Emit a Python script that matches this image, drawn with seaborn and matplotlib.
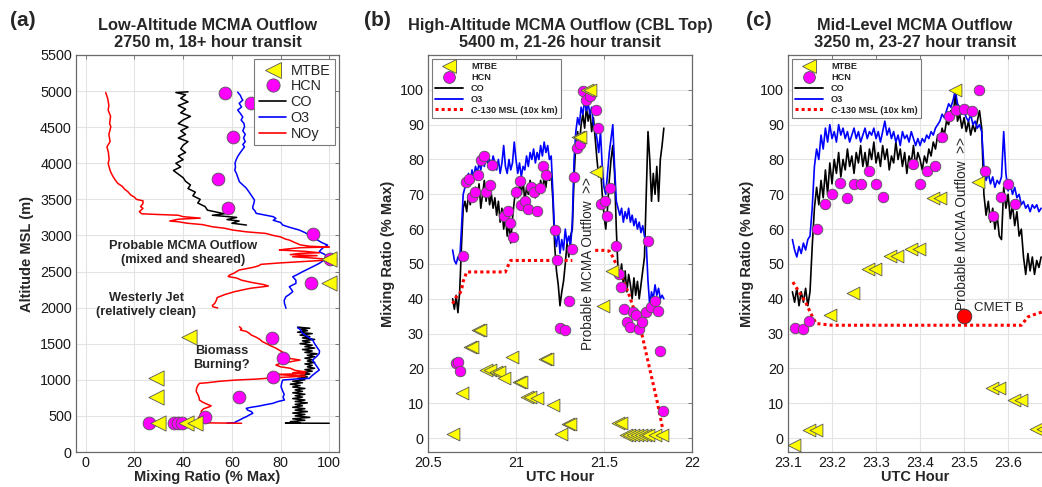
import numpy as np
import matplotlib
matplotlib.use("Agg")
import matplotlib.pyplot as plt
from matplotlib.lines import Line2D
import seaborn as sns

# ================= Panel (a): vertical profiles =================
noy_hi_alt = [4980, 4900, 4800, 4737, 4650, 4550, 4506, 4400, 4300, 4228, 4150, 4050, 3998, 3900, 3860, 3800, 3750, 3721, 3680, 3640,
              3606, 3560, 3530, 3500, 3480, 3440, 3400, 3375, 3330, 3300, 3290, 3280, 3260, 3240, 3225, 3200, 3190, 3170, 3150, 3120,
              3100, 3075, 3050, 3028, 3000, 2980, 2950, 2936, 2900, 2870, 2850, 2840, 2830, 2810, 2798, 2780, 2760, 2752, 2735, 2720,
              2705, 2690, 2675, 2660, 2640, 2620, 2600, 2580, 2560, 2540, 2521, 2480, 2450, 2430, 2410, 2380, 2350, 2320, 2300, 2290,
              2270, 2250, 2220, 2180, 2140, 2100, 2060, 2030, 2013, 1995]
noy_hi_val = [8.2, 9, 9.5, 9.2, 10.2, 9.8, 10.3, 9.5, 10, 8.7, 9.3, 9.6, 9.2, 10, 10.5, 11.5, 12.5, 13.2, 15, 16,
              17.3, 18.5, 20, 20.8, 23.5, 23.5, 22.5, 23.5, 22, 23, 30, 38, 40, 47, 38, 34.5, 38, 41.5, 48, 52,
              57, 60.4, 66, 74, 77, 80, 82, 83.6, 86, 88, 92, 100, 88, 82, 79.5, 90, 96, 88, 84, 95,
              85, 92, 98, 100, 90, 80, 72, 71, 69, 66, 63, 61, 59, 58.5, 62, 64, 68, 73, 75, 73,
              68, 65, 61, 57, 54, 53.6, 53, 52, 52.2, 54.2]

noy_lo_alt = [1736, 1710, 1690, 1670, 1644, 1620, 1590, 1560, 1530, 1505, 1470, 1440, 1400, 1370, 1330, 1297, 1274, 1250, 1230, 1205,
              1180, 1160, 1130, 1110, 1098, 1085, 1075, 1066, 1050, 1030, 1010, 997, 980, 960, 951, 920, 880, 835, 800, 760,
              720, 690, 660, 640, 627, 600, 570, 536, 500, 470, 443, 420, 405, 398]
noy_lo_val = [63.1, 64, 63.5, 66, 67.2, 68, 70, 71.5, 72.5, 74, 76, 78, 80, 81.5, 83, 83.6, 88, 84, 80, 78.1,
              80, 84, 86, 90.4, 85, 90, 78, 82, 90, 78, 70, 61.7, 55, 50, 46.7, 46, 45.5, 45.4, 46, 46.5,
              46.7, 48, 50, 51.5, 50.8, 48.5, 47.5, 47.4, 47, 46.2, 46.7, 46.5, 47, 64]

o3_hi_alt = [4985, 4940, 4900, 4875, 4830, 4780, 4737, 4690, 4640, 4600, 4550, 4506, 4450, 4400, 4350, 4300, 4260, 4228, 4150, 4100,
             4044, 4000, 3950, 3906, 3850, 3800, 3744, 3700, 3660, 3629, 3580, 3530, 3490, 3440, 3400, 3375, 3340, 3306, 3280, 3260,
             3236, 3210, 3180, 3144, 3110, 3075, 3040, 3010, 2982, 2940, 2900, 2867, 2830, 2800, 2774, 2740, 2710, 2682, 2650, 2613,
             2567, 2530, 2497, 2460, 2428, 2380, 2336, 2290, 2250, 2221, 2180, 2151, 2100, 2059, 2020, 1990]
o3_hi_val = [62.4, 63.5, 64, 64.5, 63, 64, 62.4, 63.5, 64.5, 63.8, 65, 65.2, 64.5, 65.5, 64.8, 65.5, 64.5, 65.2, 63.5, 62.5,
             61.7, 61.3, 61.5, 61.2, 62, 62.5, 63.1, 64.5, 65.8, 66.5, 67.5, 68.5, 69.3, 69, 68.6, 68.6, 69.5, 70, 74, 77,
             78.1, 77, 80, 80.9, 84, 87.7, 90, 91.5, 93.2, 95, 97, 99.3, 97.5, 96.5, 95.9, 98, 99, 100, 97.5, 95.9,
             93.2, 91, 89, 87, 85, 86.3, 86.3, 83.6, 84.5, 85, 83.5, 82.2, 81.5, 81.6, 82, 82.2]

o3_lo_alt = [1720, 1700, 1670, 1644, 1600, 1551, 1500, 1450, 1400, 1367, 1330, 1300, 1274, 1230, 1180, 1136, 1100, 1060, 1020, 1010,
             997, 960, 904, 850, 800, 760, 720, 700, 674, 650, 637, 620, 605, 580, 560, 536, 510, 490, 467, 440,
             420, 405, 400]
o3_lo_val = [87, 88, 88.5, 89, 91, 93.2, 94, 95, 96, 95.9, 95, 94, 93.2, 94, 95, 95.9, 94.5, 93, 91.8, 86,
             80.9, 80.5, 80.2, 80.8, 81.5, 81, 81.6, 79, 76.8, 73, 71.3, 68, 65.9, 66.5, 68, 68.6, 67, 66, 64.5, 63,
             61.7, 61, 58]

co_hi_alt = [4990, 4980, 4950, 4900, 4850, 4800, 4750, 4700, 4650, 4600, 4550, 4500, 4450, 4400, 4350, 4300, 4250, 4200, 4150, 4100,
             4050, 4000, 3950, 3900, 3850, 3800, 3750, 3700, 3650, 3600, 3550, 3500, 3450, 3400, 3350, 3300, 3280, 3250, 3220, 3200,
             3170, 3144]
co_hi_val = [42, 37, 41, 39, 42, 38, 41, 39, 43, 40, 38, 42, 39, 41, 38, 42, 40, 39, 41, 38,
             40, 37, 39, 36, 38, 40, 41, 43, 42, 45, 44, 47, 46, 49, 50, 57, 52, 62, 58, 63,
             60, 66]

co_lo_alt = [1730, 1715, 1700, 1680, 1660, 1640, 1620, 1600, 1580, 1560, 1540, 1520, 1500, 1480, 1460, 1440, 1420, 1400, 1380, 1360,
             1340, 1320, 1300, 1280, 1260, 1240, 1220, 1200, 1180, 1160, 1140, 1120, 1100, 1080, 1060, 1040, 1020, 1000, 980, 960,
             940, 920, 900, 880, 860, 840, 820, 800, 780, 760, 740, 720, 700, 680, 660, 640, 620, 600, 580, 560,
             540, 520, 500, 480, 460, 440, 420, 405, 400, 398]
co_lo_val = [87, 92, 88, 91, 87, 93, 88, 92, 89, 94, 89, 92, 88, 93, 90, 94, 89, 93, 90, 95,
             91, 94, 90, 93, 91, 94, 90, 93, 91, 94, 90, 93, 89, 92, 88, 91, 87, 90, 85, 89,
             84, 88, 85, 90, 86, 89, 85, 90, 86, 89, 85, 90, 86, 91, 86, 89, 85, 90, 86, 91,
             85, 90, 86, 92, 85, 90, 84, 88, 82, 100]

hcn_a_val = [57.2, 67.9, 60.4, 54.5, 58.3, 93.2, 100.4, 92.5, 76.5, 81.1, 76.8, 62.8, 49, 26, 36.3, 37.8, 39.5]
hcn_a_alt = [4976, 4838, 4367, 3781, 3375, 3019, 2668, 2345, 1583, 1306, 1043, 766, 489, 400, 400, 400, 400]
mtbe_a_val = [100, 99.7, 42.3, 28.7, 28.7, 29.6, 41, 45]
mtbe_a_alt = [2668, 2345, 1588, 1029, 766, 400, 400, 400]

# ================= Panel (b): time series =================
co_b = [40, 37, 41, 36, 42, 55, 66, 68, 65, 70,
        67, 71, 68, 72, 69, 73, 66, 70, 74, 68,
        72, 67, 70, 66, 69, 64, 68, 62, 66, 60,
        64, 58, 62, 56, 63, 68, 72, 69, 73, 70,
        74, 68, 72, 70, 74, 71, 73, 69, 72, 70,
        74, 71, 75, 72, 77, 74, 76, 68, 55, 48,
        44, 38, 42, 45, 50, 56, 52, 58, 60, 75,
        85, 88, 84, 90, 93, 89, 95, 91, 94, 88,
        92, 86, 80, 75, 78, 70, 64, 60, 66, 74,
        80, 84, 76, 60, 48, 46, 50, 44, 48, 42,
        47, 44, 40, 46, 41, 45, 40, 44, 48, 52,
        70, 88, 80, 68, 76, 70, 78, 68, 80, 84,
        89]
o3_b = [54, 51, 50, 52, 51, 60, 70, 72, 74, 76,
        73, 77, 75, 78, 76, 79, 77, 80, 78, 81,
        79, 80, 78, 81, 79, 77, 80, 76, 79, 84,
        78, 76, 80, 77, 79, 85, 80, 76, 79, 75,
        78, 77, 81, 78, 82, 80, 83, 79, 82, 80,
        84, 81, 85, 82, 84, 80, 81, 70, 58, 55,
        60, 53, 57, 54, 60, 56, 58, 55, 62, 80,
        88, 92, 90, 95, 93, 97, 94, 96, 93, 95,
        90, 89, 86, 82, 88, 78, 72, 70, 76, 82,
        86, 90, 78, 68, 66, 64, 66, 62, 65, 63,
        66, 62, 64, 61, 63, 60, 62, 59, 61, 58,
        56, 45, 38, 42, 40, 44, 41, 43, 40, 41,
        40]
t_b = np.round(20.64 + 0.01 * np.arange(len(co_b)), 3)

c130_b1_t = [20.64, 20.66, 20.68, 20.69, 20.70, 20.72, 20.80, 20.90, 20.94, 20.955, 20.97, 21.05, 21.15, 21.25, 21.32]
c130_b1_v = [38.6, 40.5, 41.5, 42.4, 45, 47.7, 47.7, 47.7, 47.7, 49.5, 51, 51, 51, 51, 51]
c130_b2_t = [21.45, 21.50, 21.53, 21.55, 21.60, 21.64, 21.71, 21.75, 21.80, 21.835]
c130_b2_v = [53.9, 53.9, 53.7, 52, 46.5, 41.5, 31, 22, 11, 2.3]

hcn_b_t = [20.657, 20.67, 20.684, 20.699, 20.714, 20.731, 20.75, 20.765, 20.784, 20.803, 20.818, 20.831, 20.85, 20.866,
           20.932, 20.955, 20.968, 20.983, 21.002, 21.021, 21.03, 21.049, 21.068, 21.083, 21.1, 21.119, 21.138, 21.153,
           21.169, 21.22, 21.233, 21.248, 21.28, 21.3, 21.318, 21.33, 21.348, 21.366, 21.38, 21.4, 21.418, 21.453,
           21.466, 21.485, 21.504, 21.517, 21.536, 21.566, 21.583, 21.598, 21.614, 21.631, 21.65, 21.665, 21.684,
           21.699, 21.718, 21.737, 21.75, 21.769, 21.788, 21.807, 21.816, 21.835]
hcn_b_v = [21.5, 21.8, 19.4, 52.2, 73.5, 74.4, 69.2, 70.6, 75.6, 79.9, 81.1, 70.6, 72.8, 78.3,
           63.9, 65.2, 61.8, 57.7, 70.8, 73.7, 66.8, 68.2, 65.8, 72.1, 70.6, 65.2, 71.9, 78,
           75.4, 59.8, 51.2, 31.6, 31.1, 39.5, 54.4, 75.1, 83.4, 84.5, 99.6, 97.1, 98.1, 94.3,
           89, 67.3, 68.2, 63.9, 71.8, 55.1, 47.2, 43.3, 37.1, 33.3, 31.9, 36.2, 35.2,
           31.4, 33.3, 36.2, 56.5, 37.6, 39.5, 36.6, 25, 7.9]
mtbe_b_t = [20.642, 20.695, 20.737, 20.752, 20.784, 20.797, 20.831, 20.85, 20.888, 20.903, 20.93, 20.977, 21.015, 21.03,
            21.062, 21.081, 21.119, 21.163, 21.176, 21.21, 21.258, 21.295, 21.309, 21.352, 21.366, 21.403, 21.422,
            21.456, 21.494, 21.547, 21.58, 21.598, 21.623, 21.642, 21.665, 21.689, 21.708, 21.731, 21.75, 21.788, 21.831]
mtbe_b_v = [1.1, 13, 26.1, 26.1, 30.9, 30.9, 19.6, 19.6, 18.9, 18.9, 17.2, 23.3, 16.1, 16.1,
            11.8, 11.8, 11.6, 22.8, 22.8, 9.4, 1.2, 3.9, 3.9, 86.4, 86.4, 100, 100,
            76.4, 37.8, 47.9, 4.3, 4.3, 0.8, 0.8, 0.8, 0.8, 0.8, 0.8, 0.8, 0.8, 0.8]

# ================= Panel (c): time series =================
co_c = [42, 39, 43, 38, 42, 39, 43, 38, 42, 55,
        66, 72, 67, 74, 69, 77, 70, 79, 73, 80,
        76, 82, 75, 80, 77, 83, 78, 81, 76, 82,
        79, 84, 78, 82, 77, 83, 80, 85, 79, 82,
        78, 84, 80, 83, 77, 81, 79, 85, 80, 83,
        78, 82, 76, 81, 79, 84, 78, 82, 80, 77,
        81, 79, 83, 81, 85, 83, 87, 85, 89, 87,
        91, 90, 94, 92, 99, 91, 93, 89, 92, 88,
        91, 87, 90, 88, 91, 94, 89, 70, 64, 68,
        62, 66, 60, 64, 58, 57, 72, 66, 70, 63,
        67, 61, 65, 58, 60, 52, 47, 53, 48, 52,
        47, 51, 49, 52]
o3_c = [57, 54, 52, 55, 53, 56, 54, 57, 58, 66,
        78, 83, 80, 87, 83, 89, 85, 90, 86, 88,
        85, 90, 87, 89, 86, 88, 85, 87, 89, 86,
        88, 85, 87, 89, 86, 88, 87, 89, 86, 88,
        85, 88, 91, 87, 89, 86, 88, 85, 87, 84,
        88, 86, 87, 85, 88, 86, 84, 86, 84, 86,
        85, 87, 86, 88, 87, 89, 90, 91, 93, 92,
        94, 96, 95, 97, 100, 96, 95, 93, 94, 92,
        91, 93, 90, 91, 89, 90, 88, 78, 74, 76,
        73, 75, 72, 74, 73, 75, 88, 76, 71, 73,
        70, 72, 69, 70, 67, 68, 66, 67, 65, 67,
        66, 67, 65, 66]
t_c = np.round(23.11 + 0.005 * np.arange(len(co_c)), 4)

c130_c_t = [23.111, 23.12, 23.13, 23.14, 23.145, 23.155, 23.164, 23.2, 23.3, 23.4, 23.5, 23.6, 23.63, 23.645, 23.66, 23.677]
c130_c_v = [44.8, 43, 41, 39, 37.6, 35, 32.9, 32.4, 32.4, 32.4, 32.4, 32.4, 32.4, 34.8, 35.5, 36.2]

hcn_c_t = [23.115, 23.134, 23.148, 23.166, 23.183, 23.2, 23.217, 23.233, 23.249, 23.266, 23.283, 23.3, 23.316,
           23.383, 23.399, 23.416, 23.433, 23.45, 23.465, 23.482, 23.499, 23.517, 23.533, 23.548, 23.566, 23.583,
           23.599, 23.615]
hcn_c_v = [31.6, 31.2, 33.6, 59.9, 67.1, 70, 73.3, 69, 73, 73, 76.8, 73, 69.2,
           78.6, 73, 76.7, 78.1, 86.4, 92.6, 94.3, 94.5, 93.8, 100, 76.7, 63.9, 69.2,
           73, 67.1]
mtbe_c_t = [23.114, 23.147, 23.164, 23.196, 23.247, 23.281, 23.298, 23.331, 23.348, 23.38, 23.397, 23.43, 23.446,
            23.48, 23.531, 23.564, 23.58, 23.613, 23.63, 23.664, 23.68]
mtbe_c_v = [-1.9, 2.4, 2.4, 35.4, 41.6, 48.6, 48.6, 52.2, 52.2, 54.4, 54.4, 69, 69,
            100, 73.5, 14.4, 14.4, 10.8, 10.8, 2.5, 2.5]
cmet_t = [23.5]
cmet_v = [35]

# ================= Styling =================
sns.set_style("whitegrid")
plt.rcParams['font.family'] = ['Liberation Sans', 'DejaVu Sans']
plt.rcParams['axes.unicode_minus'] = False

YEL = '#ffff00'
MAG = '#ff00ff'
EDGE = '#555555'
GRID = '#e3e3e3'
SPINE = '#6a6a6a'

fig = plt.figure(figsize=(10.42, 4.87), dpi=100)
H = 487.0
W = 1042.0
def box(l, r, t=55, b=452):
    return [l / W, 1 - b / H, (r - l) / W, (b - t) / H]

axA = fig.add_axes(box(76, 339))
axB = fig.add_axes(box(428, 692))
axC = fig.add_axes(box(788, 1042))

def style(ax, right=True):
    ax.set_facecolor('white')
    ax.grid(True, color=GRID, lw=0.8)
    ax.set_axisbelow(True)
    for s in ax.spines.values():
        s.set_color(SPINE)
        s.set_linewidth(0.9)
    if not right:
        ax.spines['right'].set_visible(False)
    ax.tick_params(direction='in', length=3, width=0.6, color=SPINE, labelsize=10.4,
                   pad=3, top=True, right=right, labelcolor='#1a1a1a')

# ---------- (a) ----------
ax = axA
for alt, val, c in [(co_hi_alt, co_hi_val, 'black'), (co_lo_alt, co_lo_val, 'black'),
                    (o3_hi_alt, o3_hi_val, '#0000ff'), (o3_lo_alt, o3_lo_val, '#0000ff'),
                    (noy_hi_alt, noy_hi_val, '#ff0000'), (noy_lo_alt, noy_lo_val, '#ff0000')]:
    sns.lineplot(x=val, y=alt, sort=False, estimator=None, color=c, lw=1.1, ax=ax, legend=False)
sns.scatterplot(x=hcn_a_val, y=hcn_a_alt, marker='o', s=85, color=MAG, edgecolor=EDGE,
                linewidth=0.6, ax=ax, zorder=4, legend=False)
sns.scatterplot(x=mtbe_a_val, y=mtbe_a_alt, marker='<', s=120, color=YEL, edgecolor=EDGE,
                linewidth=0.6, ax=ax, zorder=5, legend=False)
ax.set_xlim(-4, 104)
ax.set_ylim(0, 5500)
ax.set_xticks([0, 20, 40, 60, 80, 100])
ax.set_yticks(range(0, 5501, 500))
style(ax)
ax.set_xlabel('Mixing Ratio (% Max)', fontsize=10.5, fontweight='bold')
ax.set_ylabel('Altitude MSL (m)', fontsize=10.5, fontweight='bold')
ax.xaxis.set_label_coords(0.5, -0.045)
ax.yaxis.set_label_coords(-0.16, 0.5)
ax.set_title('Low-Altitude MCMA Outflow\n2750 m, 18+ hour transit', fontsize=11.8,
             fontweight='bold', pad=6, linespacing=1.15)
ax.text(39.8, 2756, 'Probable MCMA Outflow\n(mixed and sheared)', ha='center', va='center',
        fontsize=9.2, fontweight='bold')
ax.text(24.9, 2036, 'Westerly Jet\n(relatively clean)', ha='center', va='center',
        fontsize=9.2, fontweight='bold')
ax.text(55.9, 1297, 'Biomass\nBurning?', ha='center', va='center', fontsize=9.2, fontweight='bold')
hA = [Line2D([], [], ls='none', marker='<', ms=11, mfc=YEL, mec=EDGE, mew=0.6, label='MTBE'),
      Line2D([], [], ls='none', marker='o', ms=9.5, mfc=MAG, mec=EDGE, mew=0.6, label='HCN'),
      Line2D([], [], color='black', lw=1.2, label='CO'),
      Line2D([], [], color='#0000ff', lw=1.2, label='O3'),
      Line2D([], [], color='#ff0000', lw=1.2, label='NOy')]
leg = ax.legend(handles=hA, loc='upper right', fontsize=10.4, handlelength=1.9, handletextpad=0.3,
                labelspacing=0.12, borderpad=0.3, borderaxespad=0.3, fancybox=False, framealpha=1,
                edgecolor='#7a7a7a')
leg.get_frame().set_linewidth(0.8)
leg.set_zorder(10)

# ---------- (b) & (c) ----------
def series_panel(ax, t, co, o3, c130_segs, hcn_t, hcn_v, mtbe_t, mtbe_v):
    sns.lineplot(x=t, y=co, sort=False, estimator=None, color='black', lw=1.2, ax=ax, legend=False)
    sns.lineplot(x=t, y=o3, sort=False, estimator=None, color='#0000ff', lw=1.2, ax=ax, legend=False)
    for st, sv in c130_segs:
        sns.lineplot(x=st, y=sv, sort=False, estimator=None, color='#ff0000', lw=2.2,
                     linestyle=(0, (1, 1)), ax=ax, legend=False)
    sns.scatterplot(x=hcn_t, y=hcn_v, marker='o', s=58, color=MAG, edgecolor=EDGE,
                    linewidth=0.6, ax=ax, zorder=4, legend=False)
    sns.scatterplot(x=mtbe_t, y=mtbe_v, marker='<', s=85, color=YEL, edgecolor=EDGE,
                    linewidth=0.6, ax=ax, zorder=5, legend=False)
    ax.set_ylim(-4, 110)
    ax.set_yticks(range(0, 101, 10))
    ax.set_xlabel('UTC Hour', fontsize=10.5, fontweight='bold')
    ax.set_ylabel('Mixing Ratio (% Max)', fontsize=10.5, fontweight='bold')
    ax.xaxis.set_label_coords(0.5, -0.045)
    hh = [Line2D([], [], ls='none', marker='<', ms=10, mfc=YEL, mec=EDGE, mew=0.6, label='MTBE'),
          Line2D([], [], ls='none', marker='o', ms=8.5, mfc=MAG, mec=EDGE, mew=0.6, label='HCN'),
          Line2D([], [], color='black', lw=1.3, label='CO'),
          Line2D([], [], color='#0000ff', lw=1.3, label='O3'),
          Line2D([], [], color='#ff0000', lw=2.2, ls=(0, (1, 1)), label='C-130 MSL (10x km)')]
    lg = ax.legend(handles=hh, loc='upper left', prop={'size': 6.6, 'weight': 'bold'},
                   handlelength=3.0, handletextpad=0.9, labelspacing=0.2, borderpad=0.35,
                   borderaxespad=0.45, fancybox=False, framealpha=1, edgecolor='#7a7a7a')
    lg.get_frame().set_linewidth(0.8)
    lg.set_zorder(10)

ax = axB
series_panel(ax, t_b, co_b, o3_b, [(c130_b1_t, c130_b1_v), (c130_b2_t, c130_b2_v)],
             hcn_b_t, hcn_b_v, mtbe_b_t, mtbe_b_v)
ax.set_xlim(20.5, 22)
ax.set_xticks([20.5, 21, 21.5, 22])
ax.set_xticklabels(['20.5', '21', '21.5', '22'])
style(ax)
ax.yaxis.set_label_coords(-0.125, 0.5)
ax.set_title('High-Altitude MCMA Outflow (CBL Top)\n5400 m, 21-26 hour transit', fontsize=11.8,
             fontweight='bold', pad=6, linespacing=1.15)
ax.text(21.411, 50, 'Probable MCMA Outflow  >>', rotation=90, ha='center', va='center', fontsize=9.8)

ax = axC
series_panel(ax, t_c, co_c, o3_c, [(c130_c_t, c130_c_v)], hcn_c_t, hcn_c_v, mtbe_c_t, mtbe_c_v)
sns.scatterplot(x=cmet_t, y=cmet_v, marker='o', s=110, color='#ff0000', edgecolor='#333333',
                linewidth=0.6, ax=ax, zorder=6, legend=False)
ax.set_xlim(23.1, 23.677)
ax.set_xticks([23.1, 23.2, 23.3, 23.4, 23.5, 23.6])
ax.set_xticklabels(['23.1', '23.2', '23.3', '23.4', '23.5', '23.6'])
style(ax, right=False)
ax.yaxis.set_label_coords(-0.134, 0.5)
ax.set_title('Mid-Level MCMA Outflow\n3250 m, 23-27 hour transit', fontsize=11.8,
             fontweight='bold', pad=6, linespacing=1.15)
ax.text(23.495, 61.5, 'Probable MCMA Outflow  >>', rotation=90, ha='center', va='center', fontsize=9.8)
ax.text(23.522, 37.3, 'CMET B', ha='left', va='center', fontsize=9.5)

for lab, px in [('(a)', 10), ('(b)', 364), ('(c)', 746)]:
    fig.text(px / W, 1 - 21 / H, lab, fontsize=15, fontweight='bold', ha='left', va='center')

fig.savefig('out.png', dpi=100, facecolor='white')
